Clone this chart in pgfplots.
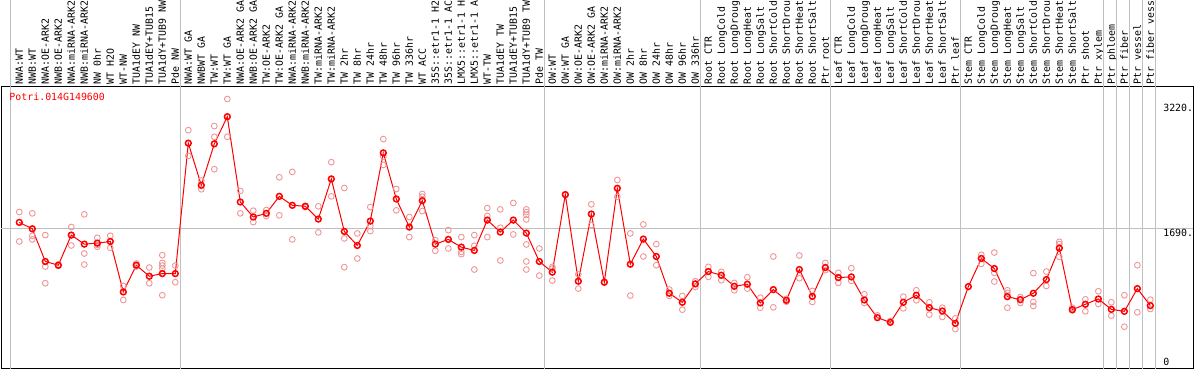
\documentclass[border=0pt]{standalone}
\usepackage{fontspec}
\setmonofont{DejaVu Sans Mono}
\usepackage{pgfplots}
\usepackage{pgfplotstable}
\pgfplotsset{compat=1.18}
\definecolor{mred}{RGB}{255,0,0}
\definecolor{mpink}{RGB}{238,150,150}
\definecolor{sepgray}{RGB}{192,192,192}

\pgfplotstableread{
i v
1 1761
2 1684
3 1290
4 1245
5 1608
6 1499
7 1511
8 1531
9 923
10 1245
11 1112
12 1144
13 1144
14 2716
15 2208
16 2708
17 3035
18 2007
19 1826
20 1870
21 2075
22 1967
23 1955
24 1801
25 2285
26 1652
27 1483
28 1777
29 2599
30 2043
31 1705
32 2023
33 1499
34 1556
35 1463
36 1423
37 1789
38 1644
39 1789
40 1632
41 1290
42 1161
43 2096
44 1052
45 1862
46 1040
47 2172
48 1257
49 1560
50 1350
51 907
52 798
53 1020
54 1169
55 1124
56 991
57 1016
58 790
59 951
60 822
61 1193
62 870
63 1217
64 1096
65 1104
66 826
67 613
68 556
69 798
70 883
71 733
72 693
73 544
74 987
75 1326
76 1205
77 866
78 830
79 907
80 1072
81 1451
82 709
83 774
84 838
85 713
86 689
87 963
88 758
}\means

\pgfplotstableread{
i v
1 1886
1 1531
2 1870
2 1600
2 1556
3 1608
3 1229
3 1028
4 1253
4 1237
5 1705
5 1483
6 1858
6 1386
6 1253
7 1576
7 1467
7 1490
8 1600
8 1455
9 995
9 826
10 1265
10 1230
11 1217
11 1028
12 1366
12 1273
12 1241
12 1205
12 883
13 1241
13 1040
14 2873
14 2563
15 2265
15 2160
16 2922
16 2793
16 2402
17 3248
17 2793
18 2140
18 1870
19 1902
19 1765
20 1910
20 1838
21 2305
21 1846
22 2370
22 1556
23 1960
23 1945
24 1955
24 1640
25 2487
25 2075
26 2176
26 1568
26 1221
27 1628
27 1326
28 1946
28 1717
28 1656
29 2765
29 2555
29 2454
30 2164
30 1906
31 1826
31 1584
32 2104
32 2071
32 1898
33 1547
33 1419
34 1668
34 1447
35 1584
35 1406
35 1378
36 1608
36 1479
36 1193
37 1934
37 1838
37 1584
38 1918
38 1697
38 1302
39 1995
39 1616
40 1918
40 1885
40 1850
40 1797
40 1495
40 1290
40 1193
41 1447
41 1120
42 1225
42 1205
42 1060
43 2096
44 1136
44 963
45 1979
45 1729
46 1040
47 2273
47 2071
48 1628
48 879
49 1737
49 1350
50 1499
50 1245
51 951
51 875
52 875
52 709
53 1052
53 983
54 1225
54 1104
55 1165
55 1064
56 1032
56 943
57 1100
57 963
58 854
58 733
59 1350
59 737
60 840
60 805
61 1362
61 1088
62 935
62 802
63 1273
63 1185
64 1153
64 1032
65 1209
65 1056
66 895
66 790
67 641
68 572
69 866
69 725
70 943
70 822
71 798
71 649
72 733
72 621
73 604
73 476
75 1370
75 1261
76 1398
76 1153
76 1048
77 943
77 911
77 733
78 862
78 790
79 1149
79 802
79 754
80 1169
80 995
81 1527
81 1499
81 1346
82 733
82 700
83 834
83 689
84 931
84 778
85 798
85 637
86 883
86 504
87 1245
87 677
88 830
88 717
}\reps

\newcommand{\lf}{\ttfamily\fontsize{9.9}{12}\selectfont}

\begin{document}
\begin{tikzpicture}[x=1pt,y=1pt]
\begin{axis}[
  at={(1.5pt,1.5pt)}, anchor=south west,
  scale only axis, width=1191.5pt, height=282pt,
  xmin=-0.369, xmax=91.285, ymin=0, ymax=3399,
  axis line style={black, line width=1pt},
  clip=false,
  xtick={1,...,88},
  xticklabels={NWA:WT, NWB:WT, NWA:OE-ARK2, NWB:OE-ARK2, NWA:miRNA-ARK2, NWB:miRNA-ARK2, NW 0hr, WT H2O, WT-NW, TUA1dEY NW, TUA1dEY+TUB15, TUA1dY+TUB9 NW, Pde NW,
    NWA:WT GA, NWBWT GA, TW:WT, TW:WT GA, NWA:OE-ARK2 GA, NWB:OE-ARK2 GA, TW:OE-ARK2, TW:OE-ARK2 GA, NWA:miRNA-ARK2, NWB:miRNA-ARK2, TW:miRNA-ARK2, TW:miRNA-ARK2, TW 2hr, TW 8hr, TW 24hr, TW 48hr, TW 96hr, TW 336hr, WT ACC, 35S::etr1-1 H2, 35S::etr1-1 AC, LMX5::etr1-1 H, LMX5::etr1-1 A, WT-TW, TUA1dEY TW, TUA1dEY+TUB15, TUA1dY+TUB9 TW, Pde TW,
    OW:WT, OW:WT GA, OW:OE-ARK2, OW:OE-ARK2 GA, OW:miRNA-ARK2, OW:miRNA-ARK2, OW 2hr, OW 8hr, OW 24hr, OW 48hr, OW 96hr, OW 336hr,
    Root CTR, Root LongCold, Root LongDroug, Root LongHeat, Root LongSalt, Root ShortCold, Root ShortDrou, Root ShortHeat, Root ShortSalt, Ptr root,
    Leaf CTR, Leaf LongCold, Leaf LongDroug, Leaf LongHeat, Leaf LongSalt, Leaf ShortCold, Leaf ShortDrou, Leaf ShortHeat, Leaf ShortSalt, Ptr leaf,
    Stem CTR, Stem LongCold, Stem LongDroug, Stem LongHeat, Stem LongSalt, Stem ShortCold, Stem ShortDrou, Stem ShortHeat, Stem ShortSalt,
    Ptr shoot, Ptr xylem, Ptr phloem, Ptr fiber, Ptr vessel, Ptr fiber vess},
  xticklabel pos=upper,
  major tick length=0pt,
  xtick style={draw=none},
  xticklabel style={rotate=90, anchor=west, inner sep=0pt, font=\lf, text height=7.2pt, text depth=0pt},
  xticklabel shift=2.2pt,
  ytick=\empty,
]
\draw[sepgray, line width=1pt] (axis cs:-0.369,1690) -- (axis cs:91.285,1690);
\pgfplotsinvokeforeach{0.338,13.38,41.38,53.38,63.38,73.38,84.37,85.37,86.36,87.36,88.36}{
  \draw[sepgray, line width=1pt] (axis cs:#1,0) -- (axis cs:#1,4500);
}
\addplot[only marks, mark=o, mark size=2.9pt, mpink, mark options={line width=0.9pt}] table[x=i,y=v] {\reps};
\addplot[mred, line width=1pt, mark=o, mark size=2.9pt, mark options={line width=1.5pt, solid}] table[x=i,y=v] {\means};
\node[anchor=north west, inner sep=0pt, font=\lf, text=mred] at (axis cs:0.231,3321) {Potri.014G149600};
\node[anchor=north west, inner sep=0pt, font=\lf] at (axis cs:88.98,3188) {3220.};
\node[anchor=north west, inner sep=0pt, font=\lf] at (axis cs:88.98,1681) {1690.};
\node[anchor=south west, inner sep=0pt, font=\lf] at (axis cs:88.98,30) {0};
\end{axis}
\pgfresetboundingbox
\path[use as bounding box] (0,0) rectangle (1194,370);
\end{tikzpicture}
\end{document}
